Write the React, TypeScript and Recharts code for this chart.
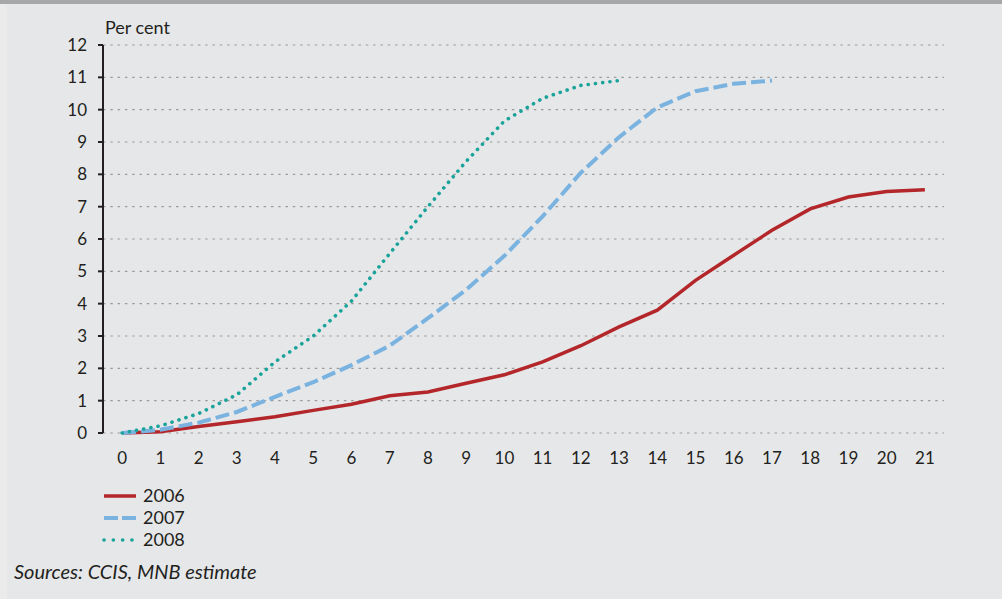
import React from 'react';
import { LineChart, Line, XAxis, YAxis, CartesianGrid } from 'recharts';

// months since start (x categories)
const months = [0, 1, 2, 3, 4, 5, 6, 7, 8, 9, 10, 11, 12, 13, 14, 15, 16, 17, 18, 19, 20, 21];
const yTicks = [0, 1, 2, 3, 4, 5, 6, 7, 8, 9, 10, 11, 12];

const series2006 = [0, 0.04, 0.2, 0.35, 0.5, 0.7, 0.89, 1.15, 1.27, 1.54, 1.8, 2.2, 2.7, 3.28, 3.8, 4.72, 5.5, 6.27, 6.93, 7.3, 7.47, 7.52];
const series2007 = [0, 0.1, 0.32, 0.65, 1.12, 1.57, 2.1, 2.7, 3.55, 4.43, 5.48, 6.7, 8.05, 9.15, 10.07, 10.57, 10.8, 10.9];
const series2008 = [0, 0.22, 0.6, 1.18, 2.2, 3.0, 4.08, 5.55, 7.0, 8.4, 9.65, 10.35, 10.75, 10.9];

const seriesNames = ['2006', '2007', '2008'];

const data = months.map((m, i) => ({
  month: m,
  y2006: series2006[i] ?? null,
  y2007: series2007[i] ?? null,
  y2008: series2008[i] ?? null,
}));

// tick marks sit between the categories
const boundaries = [...months.map(m => m - 0.5), months[months.length - 1] + 0.5];

const ink = '#231f20';
const font = 'Lato';
const styles = [
  { key: 'y2006', color: '#b3262a', width: 3.5, dash: undefined, legendDash: undefined, cap: 'butt' },
  { key: 'y2007', color: '#7ab3e0', width: 4, dash: '14 5', legendDash: '14 4', cap: 'butt' },
  { key: 'y2008', color: '#1aa39a', width: 3.6, dash: '0.1 7.2', legendDash: '0.1 9.2', cap: 'round' },
];

export default function App() {
  return (
    <div style={{ position: 'absolute', left: 0, top: 0, width: 1002, height: 599, background: '#e6e7e9', fontFamily: font, color: ink }}>
      <div style={{ position: 'absolute', left: 0, top: 0, width: 7, height: 599, background: '#ebebec' }} />
      <div style={{ position: 'absolute', left: 0, top: 0, width: 1002, height: 4, background: '#a6a7a9' }} />
      <div style={{ position: 'absolute', left: 105, top: 16, fontSize: 18 }}>Per cent</div>
      <LineChart width={1002} height={480} data={data} margin={{ top: 45, right: 58, left: 0, bottom: 0 }}>
        <CartesianGrid vertical={false} stroke="#9c9c9c" strokeDasharray="2.5 4.8" strokeWidth={1.2} xAxisId="labels" />
        <XAxis
          xAxisId="marks"
          type="number"
          dataKey="month"
          domain={[-0.5, 21.5]}
          ticks={boundaries}
          interval={0}
          height={0}
          tick={false}
          tickSize={6}
          axisLine={{ stroke: ink, strokeWidth: 2 }}
          tickLine={{ stroke: ink, strokeWidth: 2 }}
        />
        <XAxis
          xAxisId="labels"
          type="number"
          dataKey="month"
          domain={[-0.5, 21.5]}
          ticks={months}
          interval={0}
          height={47}
          axisLine={false}
          tickLine={false}
          tickSize={6}
          tickMargin={13}
          tick={{ fill: ink, fontSize: 17, fontFamily: font }}
        />
        <YAxis
          type="number"
          domain={[0, 12]}
          ticks={yTicks}
          interval={0}
          width={103}
          tickSize={5}
          tickMargin={11}
          axisLine={{ stroke: ink, strokeWidth: 2 }}
          tickLine={{ stroke: ink, strokeWidth: 2 }}
          tick={{ fill: ink, fontSize: 17, fontFamily: font }}
        />
        {styles.map(s => (
          <Line
            key={s.key}
            xAxisId="labels"
            type="linear"
            dataKey={s.key}
            stroke={s.color}
            strokeWidth={s.width}
            strokeDasharray={s.dash}
            strokeLinecap={s.cap as any}
            dot={false}
            activeDot={false}
            isAnimationActive={false}
          />
        ))}
      </LineChart>
      <svg style={{ position: 'absolute', left: 0, top: 484 }} width={260} height={70}>
        {seriesNames.map((name, i) => {
          const s = styles[i];
          const y = 12 + i * 22;
          return (
            <g key={name}>
              <line x1={104} x2={136} y1={y} y2={y} stroke={s.color} strokeWidth={s.width} strokeDasharray={s.legendDash} strokeLinecap={s.cap as any} />
              <text x={143} y={y} dy="0.36em" fontSize={18} fontFamily={font} fill={ink}>{name}</text>
            </g>
          );
        })}
      </svg>
      <div style={{ position: 'absolute', left: 14, top: 559, fontSize: 20, fontStyle: 'italic' }}>Sources: CCIS, MNB estimate</div>
    </div>
  );
}
